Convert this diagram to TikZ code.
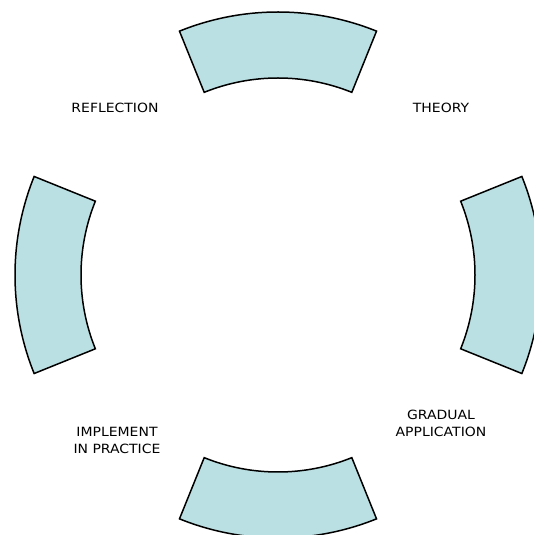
\documentclass[tikz,border=0pt]{standalone}
\usepackage{fontspec}
\setmainfont{DejaVu Sans}[FakeStretch=1.1]
\definecolor{sectorfill}{RGB}{187,224,227}
\tikzset{
  sector/.style={draw=black, line width=1.5pt, fill=sectorfill, line join=miter},
  lbl/.style={align=center, inner sep=0pt, font=\fontsize{12.7}{17}\selectfont}
}
\begin{document}
\begin{tikzpicture}[x=1pt,y=1pt]
\useasboundingbox (0,0) rectangle (534,535);
\clip (0,0) rectangle (534,535);
\fill[white] (0,0) rectangle (534,535);
\begin{scope}[shift={(278,260)}]
\foreach \t in {90,180,270,0}{
  \draw[sector] (\t-22:197) -- (\t-22:263) arc[start angle=\t-22, end angle=\t+22, radius=263]
    -- (\t+22:197) arc[start angle=\t+22, end angle=\t-22, radius=197] -- cycle;
}
\end{scope}
\node[lbl] (reflection) at (115,427) {REFLECTION};
\node[lbl] (theory) at (441,427) {THEORY};
\node[lbl] (gradual) at (441,111.5) {GRADUAL\\APPLICATION};
\node[lbl] (implement) at (117,94.5) {IMPLEMENT\\IN PRACTICE};
\end{tikzpicture}
\end{document}
